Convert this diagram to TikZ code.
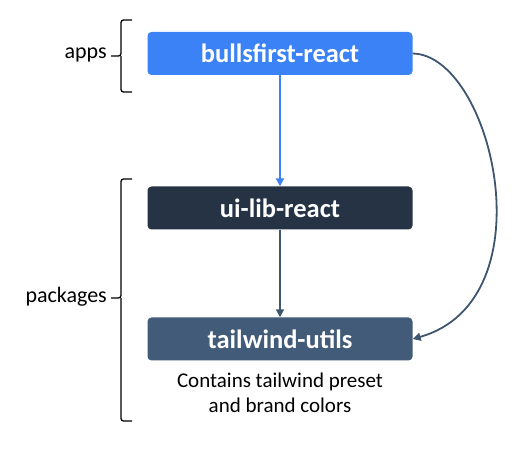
\documentclass[tikz,border=0pt]{standalone}
\usepackage{fontspec}
\setmainfont{Carlito}
\usetikzlibrary{arrows.meta}
\definecolor{appblue}{HTML}{3B82F6}
\definecolor{libdark}{HTML}{253344}
\definecolor{utilslate}{HTML}{425B78}
\definecolor{linkslate}{HTML}{3F5671}
\tikzset{
  pkgbox/.style={rounded corners=4pt, minimum width=265pt, minimum height=43pt, inner sep=0pt, text=white, font=\bfseries\fontsize{26.5}{30}\selectfont},
  lbl/.style={font=\fontsize{22}{26}\selectfont, anchor=east, inner sep=0pt},
  brace/.style={draw=black, line width=1.3pt, rounded corners=2.5pt},
  tip/.style={-{Triangle[length=8pt,width=8pt]}, line width=1.8pt}
}
\begin{document}
\begin{tikzpicture}[x=1pt,y=-1pt]
\useasboundingbox (0,0) rectangle (531,449);
\node[pkgbox, fill=appblue] (app) at (280,53.5) {bullsfirst-react};
\node[pkgbox, fill=libdark] (lib) at (280,208) {ui-lib-react};
\node[pkgbox, fill=utilslate] (utils) at (280,339) {tailwind-utils};
\node[font=\fontsize{21}{25}\selectfont, align=center, anchor=north, inner sep=0pt] (cap) at (280,373) {Contains tailwind preset\\and brand colors};
\draw[tip, color=appblue] (app.south) -- (lib.north);
\draw[tip, color=linkslate] (lib.south) -- (utils.north);
\draw[tip, color=linkslate] (app.east) .. controls (492,55) and (550,300) .. (utils.east);
% apps brace
\coordinate (at) at (132,20);
\coordinate (ab) at (132,92);
\coordinate (am) at (111,56);
\draw[brace] (at) -| (121,56) -- (am);
\draw[brace] (ab) -| (121,56);
\node[lbl] (apps) at (107,55) {apps};
% packages brace
\coordinate (pt) at (132,179);
\coordinate (pb) at (132,421);
\coordinate (pm) at (111,298);
\draw[brace] (pt) -| (121,298) -- (pm);
\draw[brace] (pb) -| (121,298);
\node[lbl] (pkgs) at (107,297) {packages};
\end{tikzpicture}
\end{document}
